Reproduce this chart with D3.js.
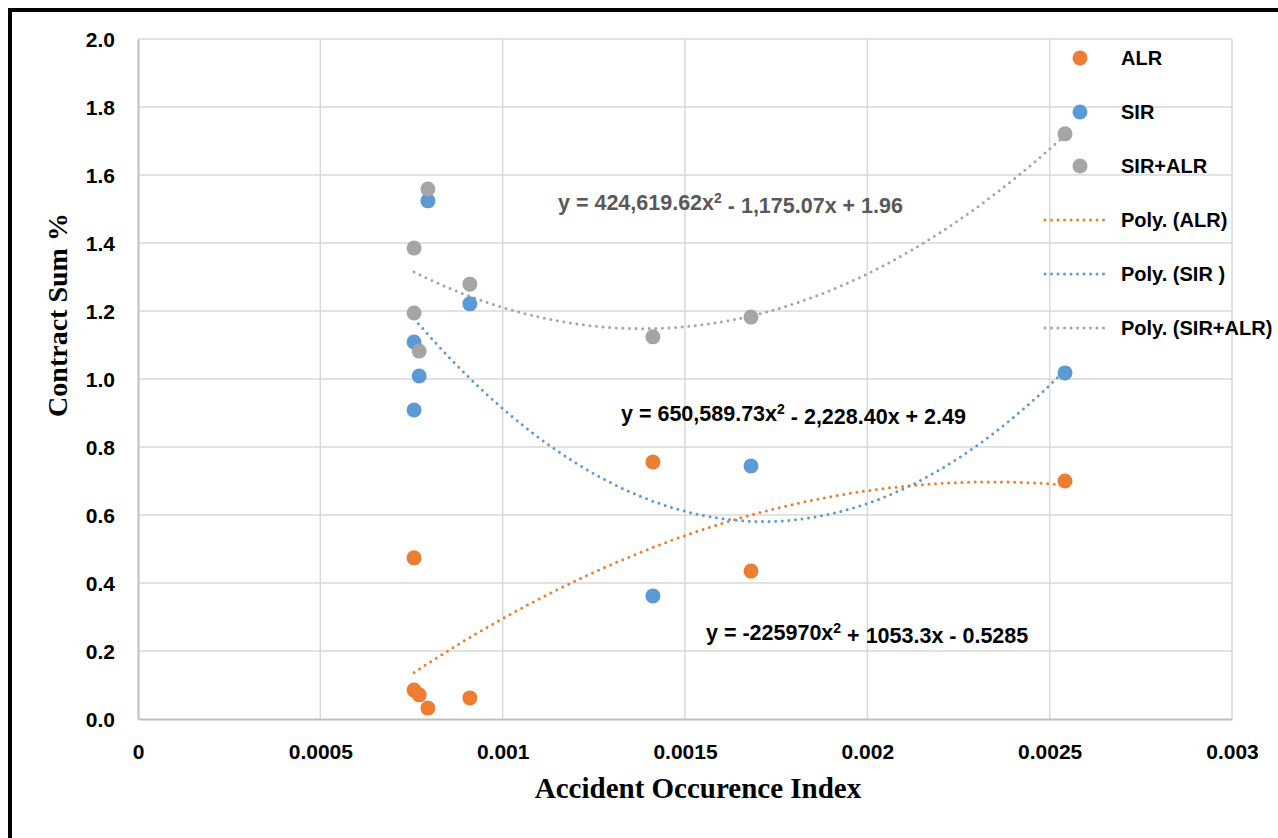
<!DOCTYPE html>
<html>
<head>
<meta charset="utf-8">
<script src="https://cdn.jsdelivr.net/npm/d3@7"></script>
<style>
  body { margin: 0; background: #fff; }
  text { font-family: "Liberation Sans", Arial, sans-serif; }
</style>
</head>
<body>
<svg width="1278" height="838"></svg>
<script>
// accident occurence index for each contract
var xALR = [0.000757, 0.000757, 0.000771, 0.000795, 0.000910, 0.001412, 0.001681, 0.002542];
var yALR = [0.474, 0.085, 0.071, 0.032, 0.062, 0.756, 0.435, 0.700];
var xSIR = [0.000795, 0.000910, 0.000757, 0.000771, 0.000757, 0.001412, 0.001681, 0.002542];
var ySIR = [1.524, 1.221, 1.109, 1.009, 0.909, 0.362, 0.744, 1.018];
var xSUM = [0.000795, 0.000757, 0.000910, 0.000757, 0.000771, 0.001412, 0.001681, 0.002542];
var ySUM = [1.559, 1.385, 1.279, 1.194, 1.082, 1.124, 1.182, 1.721];

var xTicks = [0, 0.0005, 0.001, 0.0015, 0.002, 0.0025, 0.003];
var xTickLabels = ["0", "0.0005", "0.001", "0.0015", "0.002", "0.0025", "0.003"];
var yTicks = [0, 0.2, 0.4, 0.6, 0.8, 1.0, 1.2, 1.4, 1.6, 1.8, 2.0];

var seriesNames = ["ALR", "SIR", "SIR+ALR"];
var trendNames = ["Poly. (ALR)", "Poly. (SIR )", "Poly. (SIR+ALR)"];
var colors = ["#ED7D31", "#5B9BD5", "#A5A5A5"];
var equations = [
    "y = -225970x\u00B2 + 1053.3x - 0.5285",
    "y = 650,589.73x\u00B2 - 2,228.40x + 2.49",
    "y = 424,619.62x\u00B2 - 1,175.07x + 1.96"
];

var margin = { left: 138, top: 39, right: 46, bottom: 119 },
    w = 1278 - margin.left - margin.right,
    h = 838 - margin.top - margin.bottom;

var svg = d3.select("svg");

// outer frame
svg.append("rect")
    .attr("x", 10).attr("y", 10)
    .attr("width", 1300).attr("height", 900)
    .attr("fill", "none")
    .attr("stroke", "#000")
    .attr("stroke-width", 4);

var g = svg.append("g")
    .attr("transform", "translate(" + margin.left + "," + margin.top + ")");

var x = d3.scaleLinear().domain([0, 0.003]).range([0, w]);
var y = d3.scaleLinear().domain([0, 2.0]).range([h, 0]);

// grid
g.selectAll("line.hgrid")
    .data(yTicks.slice(1))
    .enter().append("line")
    .attr("class", "hgrid")
    .attr("x1", 0).attr("x2", w)
    .attr("y1", function(d) { return y(d); })
    .attr("y2", function(d) { return y(d); })
    .attr("stroke", "#d9d9d9").attr("stroke-width", 1.5);

g.selectAll("line.vgrid")
    .data(xTicks.slice(1))
    .enter().append("line")
    .attr("class", "vgrid")
    .attr("x1", function(d) { return x(d); })
    .attr("x2", function(d) { return x(d); })
    .attr("y1", 0).attr("y2", h)
    .attr("stroke", "#d9d9d9").attr("stroke-width", 1.5);

// axes
var xAxis = d3.axisBottom(x).tickValues(xTicks).tickSize(0)
    .tickFormat(function(d, i) { return xTickLabels[i]; });
var yAxis = d3.axisLeft(y).tickValues(yTicks).tickSize(0).tickFormat(d3.format(".1f"));

var gx = g.append("g").attr("transform", "translate(0," + h + ")").call(xAxis);
gx.attr("font-family", null).attr("font-size", null);
gx.select(".domain").attr("stroke", "#bfbfbf").attr("stroke-width", 2);
gx.selectAll("text")
    .attr("dy", 0).attr("y", 40)
    .attr("font-size", "21px").attr("font-weight", "bold").attr("fill", "#000");

var gy = g.append("g").call(yAxis);
gy.attr("font-family", null).attr("font-size", null);
gy.select(".domain").attr("stroke", "#bfbfbf").attr("stroke-width", 2);
gy.selectAll("text")
    .attr("x", -23).attr("dy", "0.35em")
    .attr("font-size", "21px").attr("font-weight", "bold").attr("fill", "#000");

// least squares quadratic fit (like excel trendline)
function polyFit(xs, ys) {
    var s = 1000;
    var S = [0, 0, 0, 0, 0], T = [0, 0, 0];
    xs.forEach(function(xv, i) {
        var t = xv * s;
        for (var k = 0; k < 5; k++) S[k] += Math.pow(t, k);
        for (var k2 = 0; k2 < 3; k2++) T[k2] += ys[i] * Math.pow(t, k2);
    });
    var A = [[S[0], S[1], S[2], T[0]], [S[1], S[2], S[3], T[1]], [S[2], S[3], S[4], T[2]]];
    for (var i = 0; i < 3; i++) {
        for (var j = i + 1; j < 3; j++) {
            var f = A[j][i] / A[i][i];
            for (var k = i; k < 4; k++) A[j][k] -= f * A[i][k];
        }
    }
    var c = [0, 0, 0];
    for (var i2 = 2; i2 >= 0; i2--) {
        var v = A[i2][3];
        for (var k3 = i2 + 1; k3 < 3; k3++) v -= A[i2][k3] * c[k3];
        c[i2] = v / A[i2][i2];
    }
    return function(xv) { var t = xv * s; return c[0] + c[1] * t + c[2] * t * t; };
}

var series = [[xALR, yALR], [xSIR, ySIR], [xSUM, ySUM]];

var line = d3.line()
    .x(function(d) { return x(d[0]); })
    .y(function(d) { return y(d[1]); });

series.forEach(function(s, i) {
    var fit = polyFit(s[0], s[1]);
    var lo = d3.min(s[0]), hi = d3.max(s[0]);
    var pts = d3.range(0, 101).map(function(k) {
        var xv = lo + (hi - lo) * k / 100;
        return [xv, fit(xv)];
    });
    g.append("path")
        .datum(pts)
        .attr("d", line)
        .attr("fill", "none")
        .attr("stroke", colors[i])
        .attr("stroke-width", 3)
        .attr("stroke-linecap", "round")
        .attr("stroke-dasharray", "0,6.6");
});

// points, drawn in series order so gray sits on top
series.forEach(function(s, i) {
    g.selectAll("circle.s" + i)
        .data(s[0])
        .enter().append("circle")
        .attr("class", "s" + i)
        .attr("cx", function(d) { return x(d); })
        .attr("cy", function(d, j) { return y(s[1][j]); })
        .attr("r", 7.5)
        .attr("fill", colors[i]);
});

// trendline equations
var eqPos = [[706, 632, "#000"], [621, 413, "#000"], [558, 202, "#595959"]];
equations.forEach(function(e, i) {
    var parts = e.split("\u00B2");
    var t = svg.append("text")
        .attr("x", eqPos[i][0]).attr("y", eqPos[i][1])
        .attr("dy", "0.35em")
        .attr("font-size", "21.5px").attr("font-weight", "bold")
        .attr("fill", eqPos[i][2]);
    t.append("tspan").text(parts[0]).attr("font-weight", "bold");
    t.append("tspan").text("2").attr("dy", "-0.45em")
        .attr("font-size", "14px").attr("font-weight", "bold");
    t.append("tspan").text(parts[1]).attr("dy", "0.45em")
        .attr("font-size", "21.5px").attr("font-weight", "bold");
});

// legend
var legendRows = seriesNames.concat(trendNames);
var legend = svg.selectAll(".legend")
    .data(legendRows)
    .enter().append("g")
    .attr("class", "legend")
    .attr("transform", function(d, i) { return "translate(0," + (58 + i * 54) + ")"; });

legend.each(function(d, i) {
    var sel = d3.select(this);
    if (i < 3) {
        sel.append("circle").attr("cx", 1080).attr("cy", 0).attr("r", 7.5).attr("fill", colors[i]);
    } else {
        sel.append("line")
            .attr("x1", 1045).attr("x2", 1110).attr("y1", 0).attr("y2", 0)
            .attr("stroke", colors[i - 3])
            .attr("stroke-width", 3)
            .attr("stroke-linecap", "round")
            .attr("stroke-dasharray", "0,6.5");
    }
});

legend.append("text")
    .attr("x", 1121).attr("y", 0).attr("dy", "0.35em")
    .attr("font-size", "20px").attr("font-weight", "bold")
    .text(function(d) { return d; });

// axis titles
svg.append("text")
    .attr("x", 698).attr("y", 788).attr("dy", "0.35em")
    .attr("text-anchor", "middle")
    .style("font-family", "'Liberation Serif', 'Times New Roman', serif")
    .attr("font-size", "29px").attr("font-weight", "bold")
    .text("Accident Occurence Index");

svg.append("text")
    .attr("transform", "translate(57,315) rotate(-90)")
    .attr("dy", "0.35em")
    .attr("text-anchor", "middle")
    .style("font-family", "'Liberation Serif', 'Times New Roman', serif")
    .attr("font-size", "28px").attr("font-weight", "bold")
    .text("Contract Sum %");
</script>
</body>
</html>
